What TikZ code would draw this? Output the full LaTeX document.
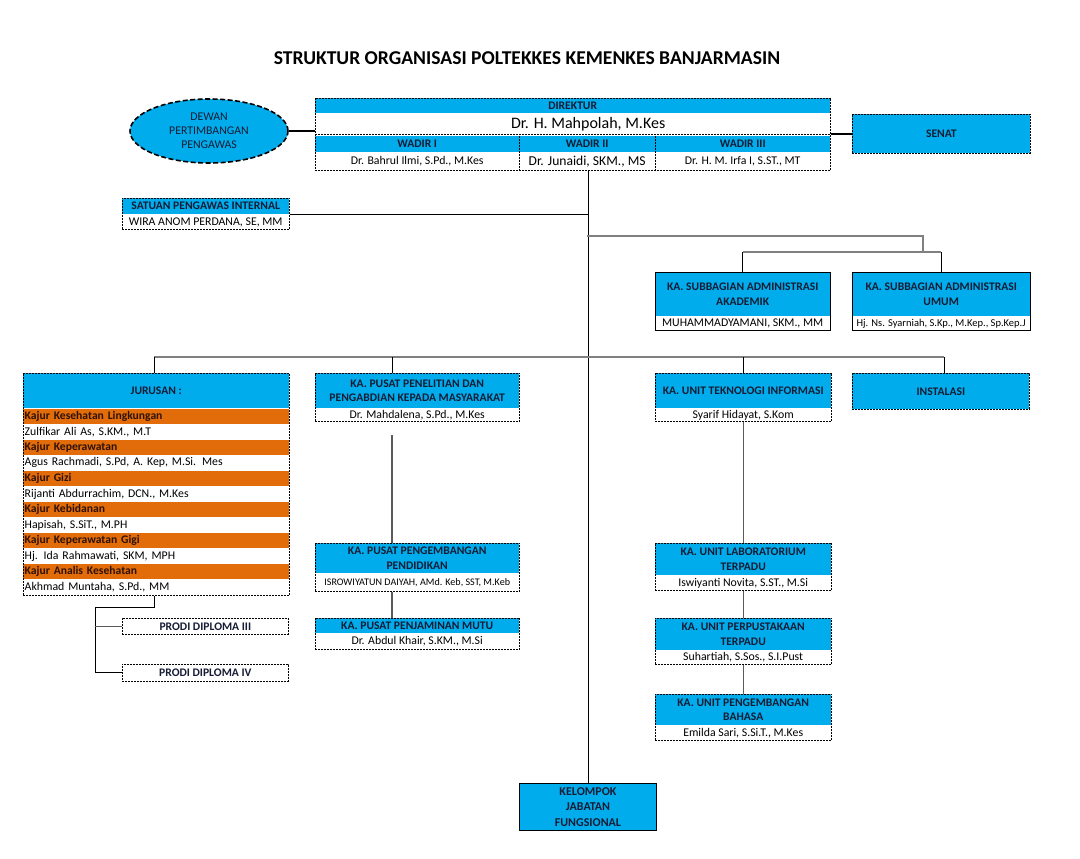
\documentclass[tikz,border=0pt]{standalone}
\usepackage{fontspec}
\setmainfont{Carlito}
\usetikzlibrary{fit,shapes.geometric}
\definecolor{cy}{RGB}{0,172,236}
\definecolor{org}{RGB}{226,107,10}
\definecolor{txt}{RGB}{22,28,52}
\definecolor{kajtxt}{RGB}{45,18,8}
\definecolor{lg}{RGB}{128,128,128}
\newcommand{\hdrfont}{\fontsize{11.6}{14.5}\selectfont\bfseries}
\newcommand{\namefont}{\fontsize{11.8}{14}\selectfont}
\tikzset{
  hdr/.style={fill=cy, inner sep=1pt, font=\hdrfont, text=txt, align=center, anchor=north west},
  nm/.style={fill=white, inner sep=0pt, font=\namefont, text=black, align=center, anchor=north west},
  dframe/.style={draw=black, line width=0.7pt, dash pattern=on 2pt off 1pt, inner sep=0pt},
  sframe/.style={draw=black, line width=0.9pt, inner sep=0pt},
  dline/.style={draw=black, line width=0.7pt, dash pattern=on 2pt off 1pt},
  bus/.style={draw=lg, line width=1.6pt},
  drop/.style={draw=black, line width=0.8pt},
  link/.style={draw=lg!70!black, line width=1.2pt},
  thick link/.style={draw=black, line width=2.6pt},
  kaj/.style={fill=org, anchor=north west, minimum height=15.17pt, text width=263pt, align=left, inner xsep=1.5pt, inner ysep=0pt, font=\hdrfont, text=kajtxt},
  kname/.style={fill=white, anchor=north west, minimum height=15.17pt, text width=263pt, align=left, inner xsep=1.5pt, inner ysep=0pt, font=\namefont, text=black},
}
% #1 name, #2 x, #3 y, #4 width, #5 header height, #6 name height, #7 header text, #8 name text, #9 frame style
\newcommand{\tbox}[9]{%
  \node[hdr, minimum width=#4pt, minimum height=#5pt] (#1h) at (#2,#3) {#7};
  \node[nm, minimum width=#4pt, minimum height=#6pt] (#1n) at (#1h.south west) {#8};
  \node[#9, fit=(#1h)(#1n)] (#1) {};
}
\begin{document}
\begin{tikzpicture}[x=1pt, y=-1pt]
\fill[white] (0,0) rectangle (1080,859);
\useasboundingbox (0,0) rectangle (1080,859);

% title
\node[font=\fontsize{19.6}{22}\selectfont\bfseries, text=black] (title) at (527,58) {STRUKTUR ORGANISASI POLTEKKES KEMENKES BANJARMASIN};

% dewan pertimbangan
\node[ellipse, fill=cy, draw=black, line width=1.6pt, dash pattern=on 5pt off 2.5pt,
  minimum width=158pt, minimum height=64pt, inner sep=0pt, align=center,
  font=\fontsize{11.8}{14}\selectfont, text=txt] (dpp) at (209,131) {DEWAN\\PERTIMBANGAN\\PENGAWAS};

% director block
\node[hdr, minimum width=515pt, minimum height=15pt] (dirh) at (315,98) {DIREKTUR};
\node[nm, minimum width=515pt, minimum height=21pt, font=\fontsize{16}{18}\selectfont] (dirn) at (dirh.south west) {\hspace*{31pt}Dr. H. Mahpolah, M.Kes};
\node[hdr, minimum width=204pt, minimum height=16pt] (w1h) at (315,135.5) {WADIR I};
\node[nm, minimum width=204pt, minimum height=18.5pt] (w1n) at (w1h.south west) {Dr. Bahrul Ilmi, S.Pd., M.Kes};
\node[hdr, minimum width=136pt, minimum height=16pt] (w2h) at (519,135.5) {WADIR II};
\node[nm, minimum width=136pt, minimum height=18.5pt, font=\fontsize{13.6}{15}\selectfont] (w2n) at (w2h.south west) {Dr. Junaidi, SKM., MS};
\node[hdr, minimum width=175pt, minimum height=16pt] (w3h) at (655,135.5) {WADIR III};
\node[nm, minimum width=175pt, minimum height=18.5pt] (w3n) at (w3h.south west) {Dr. H. M. Irfa I, S.ST., MT};
\node[dframe, fit=(dirh)(w1n)(w3n)] (dir) {};
\draw[dline] (dirn.south west) -- (dirn.south east);
\draw[dline] (w2h.north west) -- (w2n.south west);
\draw[dline] (w3h.north west) -- (w3n.south west);

% senat
\node[fill=cy, dframe, anchor=north west, minimum width=178pt, minimum height=39pt, font=\hdrfont, text=txt] (senat) at (852,114) {SENAT};

\draw[thick link] (dpp.east) -- (dpp.east -| dir.west);
\draw[thick link] (senat.west -| dir.east) -- (senat.west);

% satuan pengawas internal
\tbox{spi}{122}{198}{167}{16}{15}{SATUAN PENGAWAS INTERNAL}{WIRA ANOM PERDANA, SE, MM}{dframe}

% subbagian
\tbox{akd}{655}{272}{175}{44}{14}{KA. SUBBAGIAN ADMINISTRASI\\AKADEMIK}{MUHAMMADYAMANI, SKM., MM}{sframe}
\tbox{umm}{852}{272}{178}{44}{14}{KA. SUBBAGIAN ADMINISTRASI\\UMUM}{\fontsize{10.5}{12}\selectfont Hj. Ns. Syarniah, S.Kp., M.Kep., Sp.Kep.J}{sframe}

% jurusan
\node[hdr, minimum width=266pt, minimum height=35pt] (jurh) at (23,373) {JURUSAN :};
\node[kaj] (r1) at (jurh.south west) {Kajur Kesehatan Lingkungan};
\node[kname] (r2) at (r1.south west) {Zulfikar Ali As, S.KM., M.T};
\node[kaj] (r3) at (r2.south west) {Kajur Keperawatan};
\node[kname] (r4) at (r3.south west) {Agus Rachmadi, S.Pd, A. Kep, M.Si. Mes};
\node[kaj] (r5) at (r4.south west) {Kajur Gizi};
\node[kname] (r6) at (r5.south west) {Rijanti Abdurrachim, DCN., M.Kes};
\node[kaj] (r7) at (r6.south west) {Kajur Kebidanan};
\node[kname] (r8) at (r7.south west) {Hapisah, S.SiT., M.PH};
\node[kaj] (r9) at (r8.south west) {Kajur Keperawatan Gigi};
\node[kname] (r10) at (r9.south west) {Hj. Ida Rahmawati, SKM, MPH};
\node[kaj] (r11) at (r10.south west) {Kajur Analis Kesehatan};
\node[kname] (r12) at (r11.south west) {Akhmad Muntaha, S.Pd., MM};
\node[dframe, fit=(jurh)(r12)] (jur) {};

% prodi
\node[dframe, fill=white, anchor=north west, minimum width=166pt, minimum height=16pt, font=\hdrfont, text=txt] (p3) at (122,618) {PRODI DIPLOMA III};
\node[dframe, fill=white, anchor=north west, minimum width=166pt, minimum height=17pt, font=\hdrfont, text=txt] (p4) at (122,664) {PRODI DIPLOMA IV};

% pusat column
\tbox{ppm}{315}{373}{204}{35}{13}{KA. PUSAT PENELITIAN DAN\\PENGABDIAN KEPADA MASYARAKAT}{Dr. Mahdalena, S.Pd., M.Kes}{dframe}
\tbox{pp}{315}{543}{204}{30}{18}{KA. PUSAT PENGEMBANGAN\\PENDIDIKAN}{\fontsize{10.1}{11}\selectfont ISROWIYATUN DAIYAH, AMd. Keb, SST, M.Keb}{dframe}
\tbox{pm}{315}{618}{204}{15}{16}{KA. PUSAT PENJAMINAN MUTU}{Dr. Abdul Khair, S.KM., M.Si}{dframe}

% unit column
\tbox{ti}{655}{373}{176}{35}{13}{KA. UNIT TEKNOLOGI INFORMASI}{Syarif Hidayat, S.Kom}{dframe}
\tbox{lab}{655}{543}{176}{32}{15}{KA. UNIT LABORATORIUM\\TERPADU}{Iswiyanti Novita, S.ST., M.Si}{dframe}
\tbox{perp}{655}{618}{176}{32}{14}{KA. UNIT PERPUSTAKAAN\\TERPADU}{Suhartiah, S.Sos., S.I.Pust}{dframe}
\tbox{bah}{655}{694}{176}{31}{15}{KA. UNIT PENGEMBANGAN\\BAHASA}{Emilda Sari, S.Si.T., M.Kes}{dframe}

% instalasi
\node[fill=cy, dframe, anchor=north west, minimum width=177pt, minimum height=36pt, font=\hdrfont, text=txt] (ins) at (852,373) {INSTALASI};

% kelompok jabatan fungsional
\node[fill=cy, sframe, anchor=north west, minimum width=137pt, minimum height=47pt, align=center, font=\fontsize{12}{15.5}\selectfont\bfseries, text=txt] (kjf) at (519,783) {KELOMPOK\\JABATAN\\FUNGSIONAL};

% central line
\draw[drop] (kjf.north |- dir.south) -- (kjf.north);
\draw[drop] (spi.east) -- (spi.east -| kjf.north);

% bus to subbagian
\coordinate (b1) at (587,236);
\coordinate (b2) at (923,252);
\draw[bus] (b1) -- (b1 -| b2) -- (b2);
\draw[bus] (akd.north |- b2) -- (umm.north |- b2);
\draw[drop] (akd.north |- b2) -- (akd.north);
\draw[drop] (umm.north |- b2) -- (umm.north);

% bus to lower level
\coordinate (j1) at (154,357);
\coordinate (j2) at (392,357);
\coordinate (j4) at (944,357);
\draw[bus] (j1) -- (j4);
\draw[drop] (j1) -- (j1 |- jur.north);
\draw[drop] (j2) -- (j2 |- ppm.north);
\draw[drop] (ti.north |- j1) -- (ti.north);
\draw[drop] (j4) -- (j4 |- ins.north);

% pusat links
\draw[link, shorten <=13pt] (ppm.south -| j2) -- (pp.north -| j2);
\draw[link] (pp.south -| j2) -- (pm.north -| j2);

% unit links
\draw[link] (ti.south) -- (lab.north);
\draw[link] (lab.south) -- (perp.north);
\draw[link] (perp.south) -- (bah.north);

% jurusan to prodi
\coordinate (jd) at (95,607);
\draw[drop] (j1 |- jur.south) -- (j1 |- jd) -- (jd) -- (jd |- p4.west) -- (p4.west);
\draw[link] (jd |- p3.west) -- (p3.west);
\end{tikzpicture}
\end{document}
